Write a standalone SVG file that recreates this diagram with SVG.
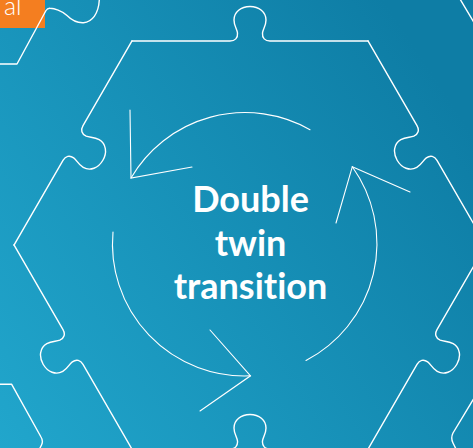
<svg xmlns="http://www.w3.org/2000/svg" xmlns:xlink="http://www.w3.org/1999/xlink" width="473" height="448" viewBox="0 0 473 448">
  <defs>
    <linearGradient id="bg" gradientUnits="userSpaceOnUse" x1="0" y1="448" x2="473" y2="134">
      <stop offset="0" stop-color="#21a6cc"/>
      <stop offset="1" stop-color="#0e7da5"/>
    </linearGradient>
    <path id="edge" d="M -118,0 L -20,0 C -15,0 -12,-3 -12.5,-8 C -13,-12 -16,-15 -16,-21 C -16,-29 -9,-34.5 0,-34.5 C 9,-34.5 16,-29 16,-21 C 16,-15 13,-12 12.5,-8 C 12,-3 15,0 20,0 L 118,0"/>
  </defs>
  <style>
    .piece { fill: none; stroke: #ffffff; stroke-width: 1.4; stroke-linecap: round; stroke-linejoin: round; }
    .arrow { fill: none; stroke: #ffffff; stroke-width: 1.1; stroke-linecap: round; stroke-linejoin: miter; }
    .title { font-family: Lato, "Noto Sans", sans-serif; font-weight: 700; font-size: 36px; fill: #ffffff; text-anchor: middle; font-variant-ligatures: none; font-feature-settings: "liga" 0, "clig" 0; }
    .tag { font-family: Lato, "Noto Sans", sans-serif; font-weight: 300; font-size: 25px; fill: #ffffff; }
  </style>

  <rect x="0" y="0" width="473" height="448" fill="url(#bg)"/>

  <g id="tag">
    <rect x="0" y="0" width="45" height="28" fill="#f47e20"/>
    <text class="tag" x="4" y="15">al</text>
  </g>

  <g id="central-piece" class="piece">
    <use xlink:href="#edge" transform="translate(250,41)"/>
    <use xlink:href="#edge" transform="translate(427,143) rotate(60) scale(1,-1)"/>
    <use xlink:href="#edge" transform="translate(427,347) rotate(120)"/>
    <use xlink:href="#edge" transform="translate(250,449) rotate(180) scale(1,-1)"/>
    <use xlink:href="#edge" transform="translate(73,347) rotate(240)"/>
    <use xlink:href="#edge" transform="translate(73,143) rotate(300) scale(1,-1)"/>
  </g>

  <g id="piece-top-left" class="piece">
    <path d="M -2,64 L 17,64 L 46,10.5 Q 47.5,8 50,8.2 C 54,8.4 62,10.5 67,15.5 C 72,20.5 78,23 83.5,22.7 C 92,22 98.5,14 99.3,0 L 99.3,-2"/>
  </g>
  <g id="piece-top-right" class="piece">
    <path d="M 460,-1 L 476,26"/>
  </g>
  <g id="piece-bottom-left" class="piece">
    <path d="M -2,384.3 L 11.7,384.3 L 41,437 Q 43.5,441 41.5,445 L 39.5,449"/>
  </g>
  <g id="piece-bottom-right" class="piece">
    <path d="M 476,395 L 453,433 Q 450.5,438 453,443 L 456,449"/>
  </g>

  <g id="cycle" class="arrow">
    <path d="M 310,129.7 A 132 132 0 0 0 131,178"/>
    <path d="M 130,110 L 131,178 L 192,167"/>
    <path d="M 113,232 A 132 132 0 0 0 250.5,375.8"/>
    <path d="M 210,330 L 250.5,375.8 L 200,411"/>
    <path d="M 306,360.5 A 132 132 0 0 0 352.3,166.7"/>
    <path d="M 336,223 L 352.3,166.7 L 410,192"/>
  </g>

  <g id="label">
    <text class="title" x="250.5" y="212">Double</text>
    <text class="title" x="250.5" y="256">twin</text>
    <text class="title" x="250.5" y="299">transition</text>
  </g>
</svg>
